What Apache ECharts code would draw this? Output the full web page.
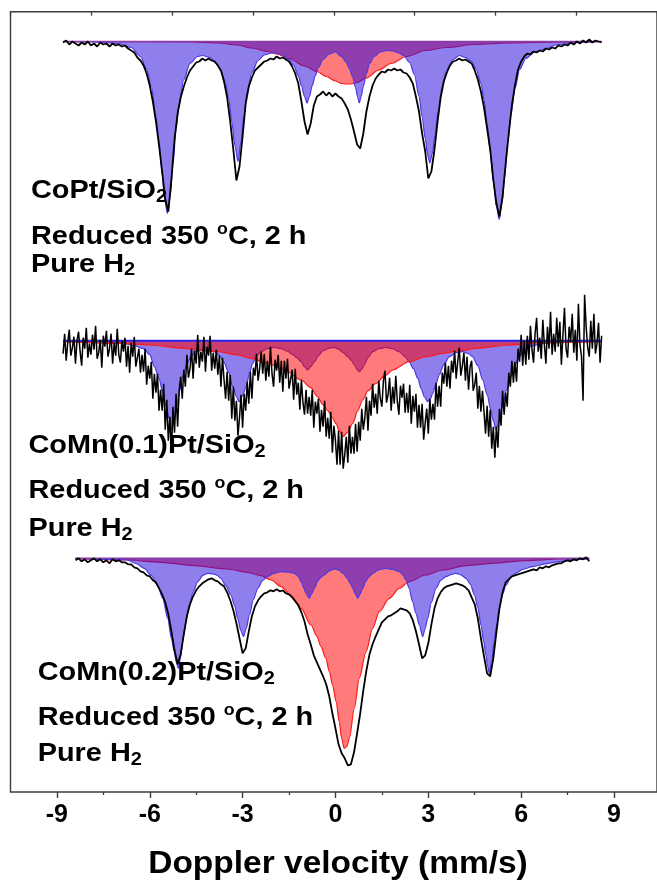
<!DOCTYPE html>
<html><head><meta charset="utf-8">
<script src="https://cdn.jsdelivr.net/npm/echarts@6.0.0/dist/echarts.min.js"></script>
<style>html,body{margin:0;padding:0;background:#fff}#c{width:657px;height:883px}</style>
</head><body><div id="c"></div>
<script>
// ---------- DATA (absorption depth, arbitrary units; velocity in mm/s) ----------
const xTicks = [-9, -6, -3, 0, 3, 6, 9];
const trace1Start = -8.8, trace1Step = 0.1;
const trace1 = [
1,-1,3,0,2,4,1,3,0,4,
2,5,1,3,2,5,2,4,3,5,
4,7,9,11,16,19,24,32,44,60,
80,104,130,158,170,138,98,72,56,45,
36,29,25,21,20,17,19,17,19,20,
24,29,40,56,80,108,139,125,95,62,
45,36,29,26,23,20,19,17,18,15,
17,16,18,20,25,32,42,60,80,93,
82,64,55,53,50,54,51,55,52,55,
57,62,68,78,90,103,107,92,70,55,
44,37,33,30,31,28,29,27,29,28,
31,32,36,42,55,70,92,110,137,130,
108,80,56,40,31,24,20,19,17,19,
18,20,22,29,38,50,66,87,108,138,
162,175,155,122,92,64,44,28,20,15,
12,13,10,11,9,10,7,8,6,7,
4,5,3,4,1,3,0,2,-1,1,
-2,1,-1,0,1];
const trace2Start = -8.8, trace2Step = 0.05;
const trace2 = [
13,-7,20,2,-11,15,7,-4,23,0,
-9,11,25,-3,8,-13,17,3,14,-6,
9,-15,18,12,-1,27,-5,6,-10,16,
8,-7,23,2,15,-12,14,22,0,11,
-3,26,5,32,2,16,-4,26,17,8,
32,14,31,8,44,25,38,21,58,33,
52,33,70,49,70,43,89,59,100,76,
112,66,92,53,86,50,36,58,29,46,
14,37,28,8,38,10,23,-6,27,11,
21,-4,31,6,15,-5,30,12,28,9,
34,15,46,17,39,58,31,60,34,78,
46,80,60,95,77,54,87,53,70,41,
63,31,58,27,35,13,40,28,11,33,
13,40,20,36,6,33,46,19,30,14,
42,20,51,20,38,18,48,39,29,59,
28,54,42,69,39,62,74,49,73,56,
75,49,87,61,73,58,91,69,86,60,
96,77,98,71,112,85,100,124,90,124,
91,128,114,96,122,85,113,96,113,83,
111,81,100,68,89,77,56,90,60,75,
43,67,53,73,40,58,66,40,30,62,
54,37,70,46,63,35,61,74,45,57,
43,72,52,72,44,83,55,71,53,87,
64,87,63,99,82,68,93,58,79,63,
79,42,66,45,66,32,43,22,46,25,
48,20,32,10,38,21,7,35,25,12,
40,16,49,26,20,50,44,32,68,45,
71,50,71,93,65,96,69,108,86,117,
86,107,68,85,50,74,52,66,32,46,
20,42,21,41,8,21,-6,25,0,24,
-5,19,-15,9,22,-7,-23,11,-3,18,
-21,4,23,-14,8,-29,14,-7,11,-23,
6,-19,24,-6,-33,8,17,-14,1,-27,
12,-11,20,-37,4,16,60,-46,-14,7,
16,-20,8,-27,13,3,-18,22,-5];
const trace3Start = -8.4, trace3Step = 0.1;
const trace3 = [
2,0,3,1,4,2,0,3,1,4,
2,5,1,3,2,4,4,6,6,9,
10,13,14,17,18,22,24,30,36,44,
56,73,92,106,96,76,58,46,38,32,
28,25,23,21,20,22,23,26,28,34,
42,52,65,80,95,90,73,58,48,42,
38,35,34,32,33,31,33,32,35,36,
39,43,47,54,63,76,86,97,104,111,
118,126,138,155,170,186,195,200,207,206,
194,175,155,132,112,96,86,78,71,64,
61,58,57,55,53,50,51,52,55,62,
73,86,100,97,85,66,50,40,34,30,
28,27,26,25,26,27,29,32,39,46,
60,80,98,115,118,100,74,50,34,24,
21,18,17,16,15,14,13,12,11,12,
9,10,8,9,7,6,5,5,3,2,
3,1,2,0,1,-1,3];

// sextet (blue) and broad component (red) fits: [velocity, depth]
const sextet1 = [[-8.8,0],[-7.8,0.5],[-7.0,2],[-6.6,6],[-6.3,15],[-6.1,28],[-5.95,45],[-5.8,75],[-5.7,100],[-5.6,132],[-5.52,158],[-5.43,172],[-5.34,155],[-5.25,123],[-5.15,88],[-5.05,62],[-4.9,38],[-4.7,22],[-4.45,15],[-4.3,14],[-4.05,16],[-3.85,22],[-3.7,29],[-3.55,42],[-3.45,57],[-3.35,80],[-3.25,104],[-3.15,120],[-3.05,100],[-2.95,72],[-2.85,50],[-2.7,31],[-2.5,19],[-2.3,13.5],[-2.05,11.5],[-1.85,12],[-1.7,14],[-1.5,18],[-1.35,24],[-1.2,34],[-1.1,44],[-1.0,55],[-0.92,61.5],[-0.84,55],[-0.75,44],[-0.65,34],[-0.55,26],[-0.4,18],[-0.2,12.5],[0.0,10.5],[0.2,15],[0.35,21],[0.45,27],[0.55,35],[0.65,46],[0.71,55],[0.77,61.5],[0.83,55],[0.9,45],[1.0,32],[1.1,22],[1.25,15],[1.45,10.5],[1.65,9],[1.85,9.5],[2.05,11.5],[2.2,14],[2.4,21],[2.55,33],[2.7,55],[2.8,75],[2.9,97],[2.98,114],[3.05,121.5],[3.13,112],[3.22,93],[3.32,68],[3.45,45],[3.6,28],[3.8,18],[4.0,14],[4.2,16],[4.4,20],[4.55,28],[4.7,42],[4.8,58],[4.9,82],[5.0,110],[5.1,140],[5.2,165],[5.29,178],[5.38,162],[5.47,135],[5.57,100],[5.67,73],[5.8,47],[5.95,28],[6.15,17],[6.4,11],[6.7,8],[7.2,3],[7.8,1],[8.6,0]];
const broad1 = [[-8.8,0],[-4.6,0.3],[-3.8,1.5],[-3.2,3.5],[-2.7,6.5],[-2.2,10],[-1.9,12.5],[-1.5,17],[-1.0,24.5],[-0.6,30],[-0.3,35],[0.0,39.5],[0.2,42],[0.35,42.5],[0.5,42.5],[0.7,41],[1.0,36.5],[1.4,28.5],[1.8,22],[2.3,15],[2.9,9],[3.6,6],[4.5,3],[5.6,1.5],[7.2,0.5],[8.6,0]];
const sextet2 = [[-8.8,0],[-7.5,1],[-6.8,3],[-6.5,5],[-6.2,8],[-6.0,14],[-5.85,26],[-5.7,38],[-5.58,52],[-5.47,66],[-5.37,78],[-5.29,89],[-5.21,80],[-5.13,66],[-5.03,50],[-4.94,36],[-4.8,24],[-4.67,16],[-4.5,11],[-4.3,9.3],[-4.1,9.5],[-3.92,11],[-3.75,15],[-3.6,22],[-3.45,32],[-3.32,46],[-3.2,56],[-3.11,61],[-3.0,55],[-2.89,46],[-2.78,33],[-2.68,23],[-2.55,15],[-2.4,11],[-2.2,8],[-1.98,6.7],[-1.75,8],[-1.55,10.5],[-1.4,13.5],[-1.25,17],[-1.11,21],[-1.0,26],[-0.9,29.3],[-0.8,26],[-0.68,21],[-0.55,15],[-0.4,10],[-0.2,7.5],[-0.05,6.7],[0.1,8.5],[0.25,12],[0.4,16],[0.52,20],[0.61,24.3],[0.7,29],[0.77,31],[0.85,28.5],[0.93,24.3],[1.05,17],[1.2,11],[1.4,8],[1.63,6.7],[1.85,8],[2.06,11],[2.25,16],[2.38,21],[2.52,28],[2.66,37.7],[2.77,48],[2.87,56],[2.98,61],[3.07,58],[3.14,52.7],[3.25,43],[3.35,34.3],[3.5,24],[3.68,16],[3.9,12],[4.11,11],[4.3,13],[4.43,16],[4.6,25],[4.76,39.3],[4.9,54],[5.02,69.3],[5.1,80],[5.19,89.3],[5.28,80],[5.4,66],[5.52,50],[5.67,36],[5.8,24],[5.94,16],[6.1,10],[6.26,6],[6.69,2.7],[7.23,1],[8.6,0]];
const broad2 = [[-8.8,1],[-7.0,2.7],[-6.0,4.3],[-4.9,7.7],[-3.8,11],[-3.2,14],[-2.73,17.7],[-2.19,22.7],[-1.65,29.3],[-1.11,39.3],[-0.8,47],[-0.58,56],[-0.4,64],[-0.25,70],[-0.1,77],[0.02,83],[0.12,90],[0.25,96],[0.38,92],[0.56,82.7],[0.72,70],[0.88,59.3],[1.05,50],[1.31,42.7],[1.6,35],[1.85,29.3],[2.38,21],[2.92,16],[3.46,12.7],[4.0,10],[4.54,7.7],[5.62,4.3],[6.69,2],[8.6,1]];
const sextet3 = [[-8.4,0],[-7.3,1],[-6.72,1.7],[-6.45,5],[-6.18,10],[-5.95,17],[-5.75,26.7],[-5.58,40],[-5.42,60],[-5.3,80],[-5.21,93.3],[-5.14,104],[-5.08,110],[-5.01,100],[-4.94,83.3],[-4.84,64],[-4.72,46.7],[-4.6,34],[-4.45,23.3],[-4.28,17],[-4.13,15],[-3.95,15.5],[-3.82,17],[-3.7,20],[-3.55,27],[-3.38,36.7],[-3.25,48],[-3.16,60],[-3.06,72],[-2.97,78.3],[-2.88,70],[-2.78,56.7],[-2.65,41],[-2.51,30],[-2.35,22],[-2.19,18.3],[-2.0,15],[-1.76,13.3],[-1.5,13.8],[-1.33,15],[-1.2,18],[-1.11,23.3],[-1.02,30],[-0.95,35],[-0.85,40],[-0.76,35],[-0.68,30],[-0.58,23],[-0.47,19],[-0.36,16.7],[-0.2,12.5],[-0.04,10.7],[0.1,11.5],[0.25,15],[0.38,20],[0.48,25],[0.56,30],[0.63,35],[0.72,40],[0.8,35.5],[0.88,30],[0.98,23],[1.08,18.5],[1.2,15],[1.4,11.5],[1.63,10],[1.85,11],[2.06,13.3],[2.18,16.5],[2.28,21.7],[2.38,30],[2.49,43.3],[2.6,55],[2.71,66.7],[2.82,78.3],[2.9,70],[2.98,60],[3.1,44],[3.25,30],[3.4,22],[3.57,18.3],[3.75,16],[3.89,15],[4.05,16.5],[4.22,20],[4.36,26],[4.49,36.7],[4.6,49],[4.7,66.7],[4.79,83],[4.86,96.7],[4.92,108],[4.97,115],[5.05,102],[5.13,83.3],[5.21,66],[5.29,50],[5.4,36],[5.51,26.7],[5.67,19],[5.83,15],[6.05,11],[6.37,8.3],[6.8,5.5],[7.23,3.3],[7.7,1.5],[8.2,0.7]];
const broad3 = [[-8.4,0],[-6.72,1.7],[-5.64,4],[-4.56,7.3],[-3.48,10.7],[-2.84,14],[-2.41,17.3],[-2.08,21.7],[-1.76,28.3],[-1.44,36.7],[-1.11,50],[-0.79,66.7],[-0.6,78],[-0.47,88],[-0.31,100],[-0.2,113],[-0.09,127],[0.02,143],[0.12,163],[0.2,180],[0.28,190],[0.37,188],[0.45,180],[0.61,150],[0.77,120],[0.99,93.3],[1.2,70],[1.42,53.3],[1.74,40],[2.06,30],[2.38,23.3],[2.92,16.7],[3.46,11.7],[4.22,7.3],[5.08,5],[6.16,2.3],[7.23,0.7],[8.2,0]];

const sampleNames = ['CoPt/SiO{sub|2}', 'CoMn(0.1)Pt/SiO{sub|2}', 'CoMn(0.2)Pt/SiO{sub|2}'];
const conditionText = 'Reduced 350 {sup|o}C, 2 h';
const gasText = 'Pure H{sub|2}';
const xAxisTitle = 'Doppler velocity (mm/s)';

// ---------- BUILD ----------
function toPairs(start, step, arr) {
  return arr.map((d, i) => [Math.round((start + i * step) * 1000) / 1000, d]);
}
const FONT = 'Liberation Sans, Arial, sans-serif';
const BLUE_FILL = 'rgba(40,10,220,0.52)';
const RED_FILL = 'rgba(255,0,0,0.52)';
const BLUE_LINE = '#4a3ae6';
const RED_LINE = '#ff1a1a';

// panel layout: baseline pixel row, top/bottom of each grid
const panels = [
  { base: 41.5, top: 21.5, height: 200 },
  { base: 340.7, top: 280.7, height: 200 },
  { base: 558.3, top: 538.3, bottom: 91 }
];

const grids = [{ left: 10.5, right: -2.4, top: 11.7, bottom: 91, show: true, borderColor: '#3c3c3c', borderWidth: 1.4, backgroundColor: 'transparent', z: 10 }];
const xAxes = [{
  gridIndex: 0, type: 'value', position: 'top', min: -4, max: 4, interval: 1,
  axisLine: { show: false, onZero: false }, axisLabel: { show: false }, splitLine: { show: false },
  axisTick: { show: true, inside: true, length: 4, lineStyle: { color: '#3c3c3c', width: 1.3 } }
}];
const yAxes = [{ gridIndex: 0, type: 'value', show: false, min: 0, max: 1 }];

panels.forEach((p, k) => {
  const g = { left: 56.9, right: 43, top: p.top };
  if (p.height) g.height = p.height; else g.bottom = p.bottom;
  grids.push(g);
  const plotH = p.height ? p.height : (883 - p.bottom - p.top);
  yAxes.push({ gridIndex: k + 1, type: 'value', show: false, inverse: true,
    min: -(p.base - p.top), max: plotH - (p.base - p.top), splitLine: { show: false } });
  const last = k === 2;
  xAxes.push({
    gridIndex: k + 1, type: 'value', position: 'bottom', min: xTicks[0], max: xTicks[xTicks.length - 1], interval: 3,
    show: last,
    axisLine: { show: false, onZero: false },
    splitLine: { show: false },
    axisTick: { show: last, length: 6, lineStyle: { color: '#3c3c3c', width: 1.4 } },
    minorTick: { show: last, splitNumber: 2, length: 3, lineStyle: { color: '#3c3c3c', width: 1.3 } },
    axisLabel: { show: last, margin: 11, fontSize: 25, fontWeight: 'bold', fontFamily: FONT, color: '#000' }
  });
});

function fitSeries(idx, data, fill, line, z) {
  return { type: 'line', xAxisIndex: idx, yAxisIndex: idx, data, symbol: 'none', smooth: 0.3,
    smoothMonotone: 'x', clip: false, silent: true, z,
    lineStyle: { color: line, width: 1.2 }, areaStyle: { color: fill, opacity: 1, origin: 'auto' } };
}
function baseSeries(idx, fit, color, width, z) {
  return { type: 'line', xAxisIndex: idx, yAxisIndex: idx, symbol: 'none', silent: true, z,
    data: [[fit[0][0], 0], [fit[fit.length - 1][0], 0]], lineStyle: { color, width } };
}
function traceSeries(idx, data, width) {
  return { type: 'line', xAxisIndex: idx, yAxisIndex: idx, data, symbol: 'none', clip: false,
    silent: true, z: 6, lineStyle: { color: '#000', width } };
}

const series = [
  fitSeries(1, broad1, RED_FILL, RED_LINE, 2),
  fitSeries(1, sextet1, BLUE_FILL, BLUE_LINE, 3),
  baseSeries(1, sextet1, '#8a3da6', 1.6, 4),
  traceSeries(1, toPairs(trace1Start, trace1Step, trace1), 1.8),

  fitSeries(2, sextet2, BLUE_FILL, BLUE_LINE, 2),
  fitSeries(2, broad2, RED_FILL, RED_LINE, 3),
  baseSeries(2, sextet2, '#2424f0', 2, 4),
  traceSeries(2, toPairs(trace2Start, trace2Step, trace2), 1.5),

  fitSeries(3, broad3, RED_FILL, RED_LINE, 2),
  fitSeries(3, sextet3, BLUE_FILL, BLUE_LINE, 3),
  baseSeries(3, sextet3, '#8a3da6', 1.6, 4),
  traceSeries(3, toPairs(trace3Start, trace3Step, trace3), 1.8)
];

const rich = {
  sub: { fontSize: 18, fontWeight: 'bold', fontFamily: FONT, lineHeight: 14, verticalAlign: 'bottom', fill: '#000' },
  sup: { fontSize: 16, fontWeight: 'bold', fontFamily: FONT, lineHeight: 14, verticalAlign: 'top', fill: '#000' }
};
function label(x, y, text) {
  return { type: 'text', x, y, scaleX: 1.11, z: 20, silent: true,
    style: { text, rich, fill: '#000', fontSize: 26, fontWeight: 'bold', fontFamily: FONT,
      lineHeight: 30, verticalAlign: 'top', align: 'left' } };
}
const textRows = [
  [31, [175.7, 221.5, 249.5]],
  [28.5, [431, 476, 514]],
  [37.7, [657.7, 702.7, 739.3]]
];
const graphic = [];
textRows.forEach((r, k) => {
  graphic.push(label(r[0], r[1][0], sampleNames[k]));
  graphic.push(label(r[0], r[1][1], conditionText));
  graphic.push(label(r[0], r[1][2], gasText));
});
graphic.push({ type: 'text', x: 338, y: 846, scaleX: 1.08, z: 20, silent: true,
  style: { text: xAxisTitle, fill: '#000', fontSize: 31, fontWeight: 'bold', fontFamily: FONT,
    lineHeight: 36, verticalAlign: 'top', align: 'center' } });

const chart = echarts.init(document.getElementById('c'), null, { renderer: 'canvas' });
chart.setOption({ animation: false, backgroundColor: '#fff', grid: grids, xAxis: xAxes, yAxis: yAxes, series, graphic });
</script></body></html>
